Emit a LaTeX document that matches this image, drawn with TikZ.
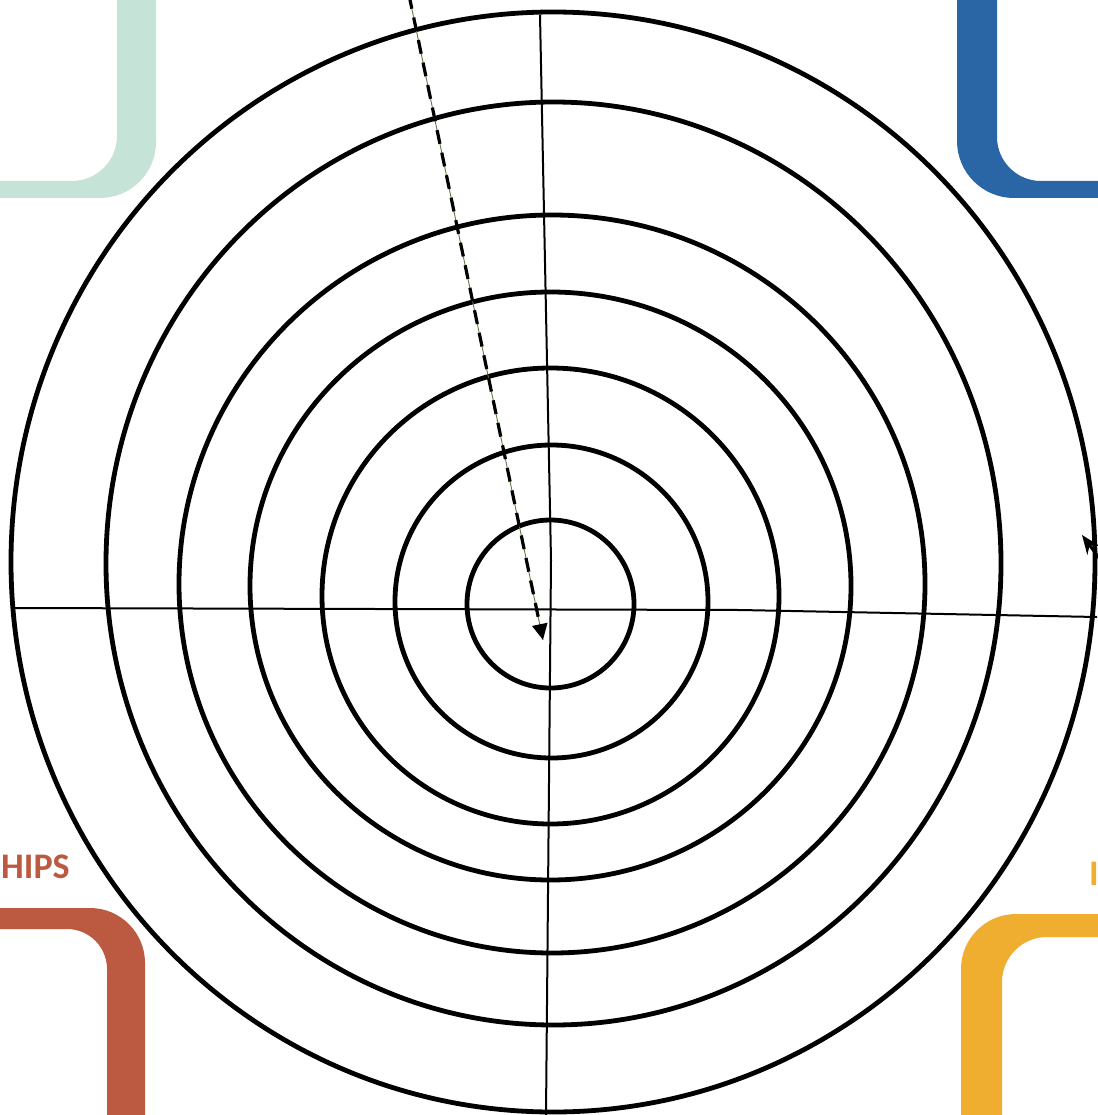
\documentclass[tikz,border=0pt]{standalone}
\usepackage{fontspec}
\newfontfamily\labelfont{Carlito}
\usetikzlibrary{arrows.meta}

\definecolor{tealband}{HTML}{C5E3D7}
\definecolor{blueband}{HTML}{2A65A6}
\definecolor{redband}{HTML}{BC5A41}
\definecolor{yellowband}{HTML}{EFAE30}
\definecolor{guidegreen}{HTML}{5B7F45}

\begin{document}
\begin{tikzpicture}[
  x=1pt, y=-1pt,
  ring/.style={draw=black, line width=4.8pt},
  axisline/.style={draw=black, line width=2pt},
  band/.style={even odd rule},
  guideline/.style={draw=guidegreen, line width=0.9pt},
  dasharrow/.style={draw=black, line width=3.2pt, dash pattern=on 14pt off 9pt,
    -{Triangle[length=16pt, width=15pt]}},
  ptrarrow/.style={draw=black, line width=3pt, -{Stealth[length=19pt, width=15pt]}},
  cornerlabel/.style={font=\labelfont\bfseries\fontsize{36}{40}\selectfont, inner sep=0pt},
]
\useasboundingbox (0,0) rectangle (1097,1115);
\fill[white] (0,0) rectangle (1097,1115);

% corner bands
\fill[tealband, band]
  [rounded corners=56pt] (-100,-100) -- (156,-100) -- (156,198) -- (-100,198) -- cycle
  [rounded corners=45pt] (-100,-100) -- (117,-100) -- (117,181) -- (-100,181) -- cycle;
\fill[blueband, band]
  [rounded corners=57pt] (957,-100) -- (957,198) -- (1200,198) -- (1200,-100) -- cycle
  [rounded corners=44pt] (997,-100) -- (997,181) -- (1200,181) -- (1200,-100) -- cycle;
\fill[redband, band]
  [rounded corners=55pt] (-100,908) -- (145,908) -- (145,1215) -- (-100,1215) -- cycle
  [rounded corners=40pt] (-100,929) -- (107,929) -- (107,1215) -- (-100,1215) -- cycle;
\fill[yellowband, band]
  [rounded corners=55pt] (961,1215) -- (961,914) -- (1200,914) -- (1200,1215) -- cycle
  [rounded corners=45pt] (1002,1215) -- (1002,937) -- (1200,937) -- (1200,1215) -- cycle;

\node[cornerlabel, text=redband, anchor=base west] (hips) at (1,878) {HIPS};
\node[cornerlabel, text=yellowband, anchor=base west] (cutlabel) at (1089,885) {I};

% rings
\foreach \cx/\cy/\rx/\ry in {550.5/604/83.5/84, 551.5/601.5/156.5/156.5,
    550.5/596/228.5/228, 550.5/586/300.5/294, 552/584/373/369,
    553.5/563.5/447.5/461.5, 553/562/542/550}
  \draw[ring] (\cx,\cy) ellipse [x radius=\rx pt, y radius=\ry pt];

% axes
\coordinate (hleft) at (14,608);
\coordinate (hmid) at (740,610);
\coordinate (hright) at (1097,617);
\coordinate (vtop) at (540,15);
\coordinate (vmid) at (551,560);
\coordinate (vbottom) at (546,1115);
\draw[axisline] (hleft) -- (hmid) -- (hright);
\draw[axisline] (vtop) -- (vmid) -- (vbottom);

% dashed pointer
\coordinate (dashtail) at (409,-5);
\coordinate (dashtip) at (543,640);
\draw[guideline] (dashtail) -- (dashtip);
\draw[dasharrow] (dashtail) -- (dashtip);

% small pointer on the right
\coordinate (ptrtail) at (1102,562);
\coordinate (ptrtip) at (1082,535);
\draw[ptrarrow] (ptrtail) -- (ptrtip);

\end{tikzpicture}
\end{document}
